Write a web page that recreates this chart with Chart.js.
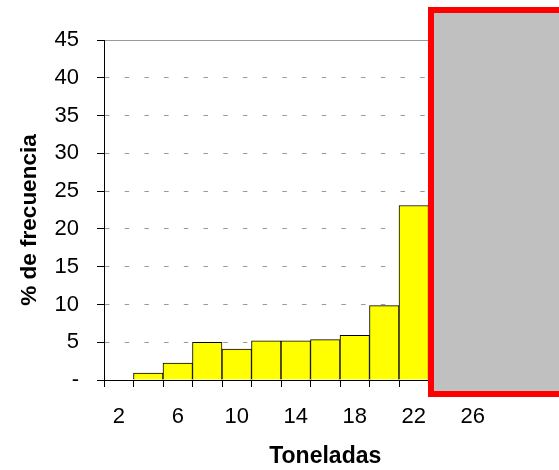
<!DOCTYPE html>
<html>
<head>
<meta charset="utf-8">
<script src="https://cdn.jsdelivr.net/npm/chart.js@4/dist/chart.umd.min.js"></script>
<style>
  html, body { margin: 0; padding: 0; background: #fff; overflow: hidden; }
  #wrap { position: relative; width: 559px; height: 470px; }
  #cover {
    position: absolute; left: 428px; top: 7px; width: 150px; height: 390px;
    box-sizing: border-box; border: 6px solid #ff0000; background: #c0c0c0;
  }
</style>
</head>
<body>
<div id="wrap">
  <canvas id="c" width="559" height="470"></canvas>
  <div id="cover"></div>
</div>
<script>
// Weight classes (tonnes) and share of observations per class (%)
const toneladas = [2, 4, 6, 8, 10, 12, 14, 16, 18, 20, 22, 24, 26, 28, 30];
const frecuencia = [0, 0.9, 2.25, 5.0, 4.1, 5.2, 5.2, 5.35, 5.9, 9.85, 23.1, null, null, null, null];
const xTickLabels = ['2', '6', '10', '14', '18', '22', '26'];
const yTicks = [0, 5, 10, 15, 20, 25, 30, 35, 40, 45];
const yTitle = '% de frecuencia';
const xTitle = 'Toneladas';

const FONT = "'Liberation Sans', Arial, sans-serif";

// Vertical axis title, placed beside the value labels
const yTitlePlugin = {
  id: 'yTitle',
  afterDraw(chart) {
    const ctx = chart.ctx;
    ctx.save();
    ctx.translate(30, 220);
    ctx.rotate(-Math.PI / 2);
    ctx.font = 'bold 22.5px ' + FONT;
    ctx.fillStyle = '#000';
    ctx.textAlign = 'center';
    ctx.textBaseline = 'middle';
    ctx.fillText(yTitle, 0, 0);
    ctx.restore();
  }
};

new Chart(document.getElementById('c'), {
  type: 'bar',
  data: {
    labels: toneladas,
    datasets: [{
      data: frecuencia,
      backgroundColor: '#ffff00',
      borderColor: '#000000',
      borderWidth: 1,
      barPercentage: 1,
      categoryPercentage: 1
    }]
  },
  plugins: [yTitlePlugin],
  options: {
    responsive: false,
    animation: false,
    events: [],
    layout: { padding: { top: 40, right: 12.5, left: 0, bottom: 0 } },
    plugins: { legend: { display: false }, tooltip: { enabled: false } },
    scales: {
      x: {
        offset: true,
        afterFit: s => { s.height = 90; },
        border: { color: '#000', width: 1 },
        grid: {
          offset: true,
          drawOnChartArea: false,
          drawTicks: true,
          tickLength: 7,
          tickColor: '#000'
        },
        ticks: {
          color: '#000',
          font: { family: FONT, size: 22 },
          padding: 17,
          maxRotation: 0,
          autoSkip: false,
          callback: function (v) {
            const t = String(this.getLabelForValue(v));
            return xTickLabels.includes(t) ? t : '';
          }
        },
        title: {
          display: true,
          text: xTitle,
          color: '#000',
          font: { family: FONT, size: 23, weight: 'bold' },
          padding: { top: 0, bottom: 0 }
        }
      },
      xTop: {
        position: 'top',
        offset: true,
        afterFit: s => { s.height = 0; },
        border: { color: '#999999', width: 1 },
        grid: { display: false },
        ticks: { display: false }
      },
      y: {
        min: 0,
        max: 45,
        afterFit: s => { s.width = 104; },
        afterBuildTicks: s => { s.ticks = yTicks.map(v => ({ value: v })); },
        border: { color: '#000', width: 1, dash: [4.5, 15.2] },
        grid: {
          color: '#999999',
          tickColor: '#000',
          tickBorderDash: [],
          tickLength: 7
        },
        ticks: {
          color: '#000',
          font: { family: FONT, size: 22 },
          padding: 18,
          callback: v => (v === 0 ? '-' : String(v))
        },
        title: { display: false }
      }
    }
  }
});
</script>
</body>
</html>
